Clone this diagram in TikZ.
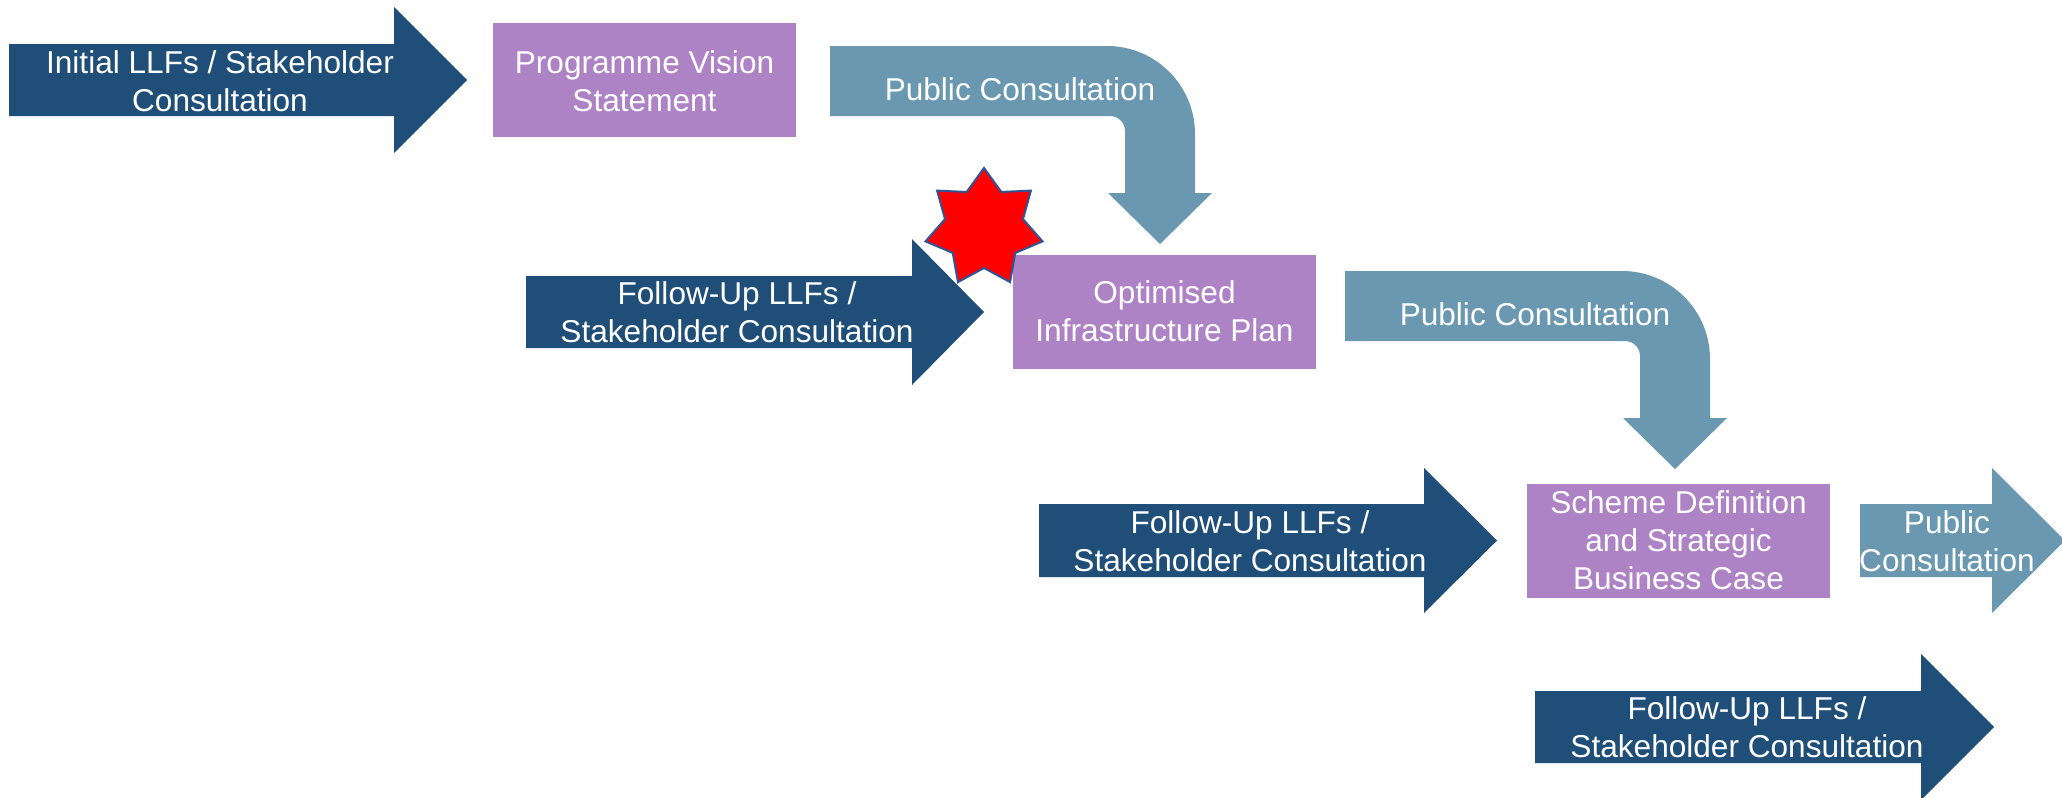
\documentclass[tikz,border=0pt]{standalone}
\usepackage{fontspec}
\setmainfont{Liberation Sans}
\definecolor{dblue}{HTML}{1F4E79}
\definecolor{lpurple}{HTML}{AD83C5}
\definecolor{steel}{HTML}{6998B0}
\definecolor{starblue}{HTML}{2F5597}
\begin{document}
\begin{tikzpicture}[x=0.5pt,y=-0.5pt,
  lbl/.style={text=white, font=\fontsize{15.8}{19}\selectfont, align=center, inner sep=0pt, anchor=north},
  darrow/.style={fill=dblue},
  carrow/.style={fill=steel},
  pbox/.style={fill=lpurple, inner sep=0pt, minimum width=151.5pt, minimum height=57pt}]
\useasboundingbox[fill=white] (0,0) rectangle (2062,798);

% straight dark arrows
\fill[darrow] (9,44) -- (394,44) -- (394,7) -- (467,80) -- (394,153) -- (394,116) -- (9,116) -- cycle;
\fill[darrow] (526,276) -- (912,276) -- (912,239) -- (984,312) -- (912,385) -- (912,348) -- (526,348) -- cycle;
\fill[darrow] (1039,504) -- (1424,504) -- (1424,468) -- (1497,540.5) -- (1424,613) -- (1424,577) -- (1039,577) -- cycle;
\fill[darrow] (1535,691) -- (1921,691) -- (1921,654) -- (1994,727) -- (1921,800) -- (1921,763) -- (1535,763) -- cycle;
% small public consultation arrow
\fill[carrow] (1860,504) -- (1992,504) -- (1992,468) -- (2065,540.5) -- (1992,613) -- (1992,577) -- (1860,577) -- cycle;

% bent arrows
\foreach \dx/\dy in {0/0, 515/225}{
\begin{scope}[shift={(\dx,\dy)}]
\fill[carrow] (830,46) -- (1107,46) .. controls (1155.6,46) and (1195,85.4) .. (1195,134)
  -- (1195,193) -- (1212,193) -- (1160,244) -- (1108,193) -- (1125,193) -- (1125,131)
  .. controls (1125,122.7) and (1118.3,116) .. (1110,116) -- (830,116) -- cycle;
\end{scope}
}

% purple boxes
\node[pbox] (box1) at (644.5,80) {};
\node[pbox] (box2) at (1164.5,311.5) {};
\node[pbox] (box3) at (1678.5,541) {};

% star
\draw[fill=red, draw=starblue, line width=1pt] (984,228) +(-90:60)
  \foreach \k in {1,...,13}{ -- +({-90+\k*360/14}:{40+20*mod(\k+1,2)}) } -- cycle;
\coordinate (star) at (984,228);

% labels
\node[lbl] (t1) at (220,{73-26.6}) {\strut Initial LLFs / Stakeholder\\\strut Consultation};
\node[lbl] (box1t) at (644.5,{73-26.6}) {\strut Programme Vision\\\strut Statement};
\node[lbl] (pc1) at (1020,{100-26.6}) {\strut Public Consultation};
\node[lbl] (t2) at (737,{304.5-26.6}) {\strut Follow-Up LLFs /\\\strut Stakeholder Consultation};
\node[lbl] (box2t) at (1164.5,{303-26.6}) {\strut Optimised\\\strut Infrastructure Plan};
\node[lbl] (pc2) at (1535,{325-26.6}) {\strut Public Consultation};
\node[lbl] (t3) at (1250,{533-26.6}) {\strut Follow-Up LLFs /\\\strut Stakeholder Consultation};
\node[lbl] (box3t) at (1678.5,{513-26.6}) {\strut Scheme Definition\\\strut and Strategic\\\strut Business Case};
\node[lbl] (pc3) at (1947,{533-26.6}) {\strut Public\\\strut Consultation};
\node[lbl] (t4) at (1747,{719.5-26.6}) {\strut Follow-Up LLFs /\\\strut Stakeholder Consultation};
\end{tikzpicture}
\end{document}
